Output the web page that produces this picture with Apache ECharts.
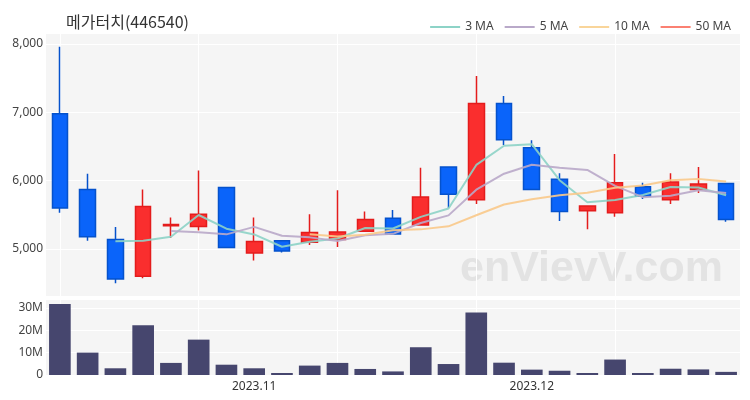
<!DOCTYPE html>
<html><head><meta charset="utf-8">
<script src="https://cdn.jsdelivr.net/npm/echarts@6/dist/echarts.min.js"></script>
<style>html,body{margin:0;padding:0;background:#fff}#c{width:750px;height:400px}</style>
</head><body><div id="c"></div>
<script>
var dates = ['2023.10.11','2023.10.13','2023.10.17','2023.10.19','2023.10.23','2023.10.25','2023.10.27',
  '2023.11.01','2023.11.03','2023.11.07','2023.11.09','2023.11.13','2023.11.15','2023.11.17','2023.11.21','2023.11.23','2023.11.27',
  '2023.12.01','2023.12.05','2023.12.07','2023.12.11','2023.12.13','2023.12.15','2023.12.19','2023.12.21'];
var opens  = [6980,5870,5140,4600,5340,5330,5900,4940,5120,5100,5140,5260,5450,5350,6200,5720,7130,6480,6020,5560,5530,5910,5720,5870,5960];
var closes = [5600,5180,4560,5620,5360,5510,5020,5110,4970,5240,5250,5430,5220,5760,5800,7130,6600,5870,5550,5630,5970,5770,5980,5950,5430];
var lows   = [5530,5120,4500,4570,5160,5270,5020,4830,4950,5060,5030,5260,5210,5340,5600,5660,6520,5870,5410,5290,5470,5730,5660,5820,5400];
var highs  = [7960,6100,5320,5870,5460,6150,5900,5460,5120,5510,5860,5550,5570,6190,6210,7530,7240,6590,6110,5630,6390,5970,6110,6200,5960];
var volumes = [31.7,10.0,3.0,22.2,5.4,15.8,4.6,3.0,0.9,4.2,5.4,2.7,1.6,12.4,4.9,27.9,5.5,2.4,1.9,0.9,6.9,0.9,2.8,2.5,1.4];
var ma3  = ['-','-',5113,5120,5180,5497,5297,5213,5033,5107,5153,5307,5300,5470,5593,6230,6510,6533,6007,5683,5717,5790,5907,5900,5787];
var ma5  = ['-','-','-','-',5264,5246,5214,5324,5194,5170,5118,5200,5222,5380,5492,5868,6102,6232,6190,6156,5924,5758,5780,5860,5820];
var ma10 = ['-','-','-','-','-','-','-','-','-',5217,5182,5207,5273,5287,5331,5493,5651,5727,5785,5824,5896,5930,6006,6025,5988];
var ma50 = [];
var priceTicks = [5000,6000,7000,8000];
var volTicks = [0,10,20,30];

var candleData = opens.map(function(o,i){return [o, closes[i], lows[i], highs[i]];});
var volData = volumes.map(function(v){return v*1e6;});

var chart = echarts.init(document.getElementById('c'), null, {renderer:'canvas'});
var monthStart = function(i){ return i>0 && dates[i].slice(0,7)!==dates[i-1].slice(0,7); };
var splitCol = '#ffffff';
chart.setOption({
  animation:false,
  backgroundColor:'#ffffff',
  title:{text:'메가터치(446540)', left:61, top:9, textStyle:{fontFamily:'Noto Sans CJK KR', fontSize:16, fontWeight:'normal', color:'#333'}},
  legend:{right:14, top:16, itemWidth:30, itemHeight:2, itemGap:11, icon:'rect',
    textStyle:{fontFamily:'Noto Sans', fontSize:12, color:'#444'},
    data:['3 MA','5 MA','10 MA','50 MA']},
  graphic:[{type:'text', left:460, top:248, z:0, silent:true,
    style:{text:'enVievV.com', font:'bold 43px "Liberation Sans", Arial, sans-serif', fill:'#e3e3e3'}}],
  grid:[
    {left:46, right:10, top:34, height:262, show:true, backgroundColor:'#f5f5f5', borderWidth:0},
    {left:46, right:10, top:300, height:75, show:true, backgroundColor:'#f5f5f5', borderWidth:0}
  ],
  xAxis:[
    {type:'category', gridIndex:0, data:dates, boundaryGap:true,
     axisLine:{show:false}, axisTick:{show:false}, axisLabel:{show:false},
     splitLine:{show:true, alignWithLabel:true, interval:function(i){return i%5===0;}, lineStyle:{color:splitCol}}},
    {type:'category', gridIndex:1, data:dates, boundaryGap:true,
     axisLine:{show:false}, axisTick:{show:false},
     axisLabel:{interval:function(i){return monthStart(i);}, formatter:function(v){return v.slice(0,7);}, color:'#333', fontSize:12, fontFamily:'Noto Sans', margin:6},
     splitLine:{show:true, alignWithLabel:true, interval:function(i){return i%5===0;}, lineStyle:{color:splitCol}}}
  ],
  yAxis:[
    {type:'value', gridIndex:0, min:4312, max:8146,
     axisLine:{show:false},
     axisTick:{show:false, customValues:priceTicks},
     axisLabel:{customValues:priceTicks, color:'#444', fontSize:12, fontFamily:'Noto Sans', margin:3,
       formatter:function(v){return v.toLocaleString('en-US');}},
     splitLine:{show:true, lineStyle:{color:splitCol}}},
    {type:'value', gridIndex:1, min:0, max:33.5e6,
     axisLine:{show:false},
     axisTick:{show:false, customValues:volTicks.map(function(m){return m*1e6;})},
     axisLabel:{customValues:volTicks.map(function(m){return m*1e6;}), color:'#444', fontSize:12, fontFamily:'Noto Sans', margin:3,
       formatter:function(v){var m=Math.round(v/1e6); return m===0?'0':m+'M';}},
     splitLine:{show:true, lineStyle:{color:splitCol}}}
  ],
  series:[
    {type:'candlestick', name:'price', xAxisIndex:0, yAxisIndex:0, data:candleData, barWidth:'58%',
     itemStyle:{color:'#fa2e2e', color0:'#0a64fa', borderColor:'#e41c1c', borderColor0:'#0552cc', borderWidth:1.5}},
    {type:'line', name:'3 MA', data:ma3, xAxisIndex:0, yAxisIndex:0, showSymbol:false, symbol:'none',
     lineStyle:{width:2, color:'#8dd3c7', opacity:0.9}, itemStyle:{color:'#8dd3c7'}},
    {type:'line', name:'5 MA', data:ma5, xAxisIndex:0, yAxisIndex:0, showSymbol:false, symbol:'none',
     lineStyle:{width:2, color:'#b9a9c9', opacity:0.9}, itemStyle:{color:'#b9a9c9'}},
    {type:'line', name:'10 MA', data:ma10, xAxisIndex:0, yAxisIndex:0, showSymbol:false, symbol:'none',
     lineStyle:{width:2, color:'#f9c98a', opacity:0.9}, itemStyle:{color:'#f9d59a'}},
    {type:'line', name:'50 MA', data:ma50, xAxisIndex:0, yAxisIndex:0, showSymbol:false, symbol:'none',
     lineStyle:{width:2, color:'#fb8072'}, itemStyle:{color:'#fb8072'}},
    {type:'bar', name:'volume', xAxisIndex:1, yAxisIndex:1, data:volData, barWidth:'78%',
     itemStyle:{color:'#46466e'}}
  ]
});
</script></body></html>
